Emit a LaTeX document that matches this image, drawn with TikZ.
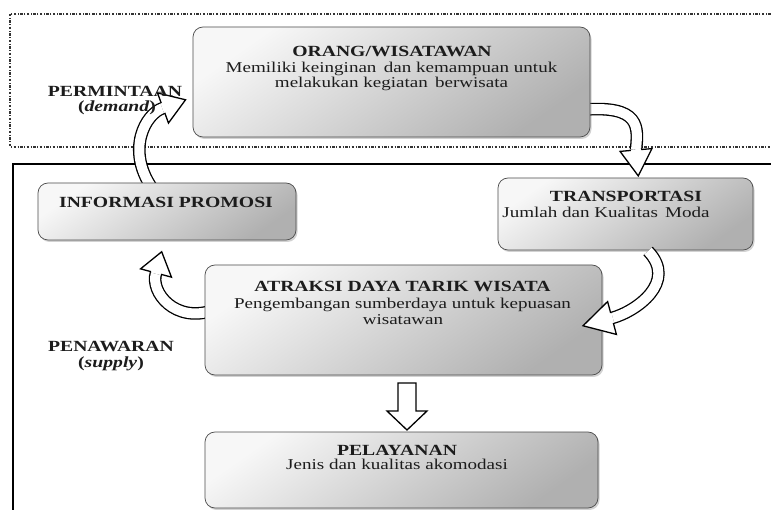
\documentclass[tikz,border=0pt]{standalone}
\usepackage{fontspec}
\setmainfont{Liberation Serif}[FakeStretch=1.27]
\usetikzlibrary{calc,shadows}
\definecolor{ink}{HTML}{1C1C1C}
\tikzset{
  box/.style={draw=gray!60!black, line width=0.7pt, rounded corners=10pt,
    top color=gray!6, bottom color=gray!62, shading angle=35,
    drop shadow={shadow xshift=1.5pt, shadow yshift=-2pt, opacity=0.35}},
  ttl/.style={font=\fontsize{15.5}{15.5}\selectfont\bfseries, text=ink, inner sep=0pt, anchor=base},
  bdy/.style={font=\fontsize{15}{15}\selectfont, text=ink, inner sep=0pt, anchor=base},
  band/.style={draw=black, line width=1.3pt, double=white, double distance=10pt, line cap=butt},
  ahead/.style={draw=black, line width=1.3pt, fill=white, line join=miter},
  dotframe/.style={draw=black!80, line width=1.3pt, dash pattern=on 2.5pt off 1.5pt on 1pt off 1.5pt},
}
% #1 start, #2 c1, #3 c2, #4 head base, #5 direction, #6 head half width, #7 head length
\newcommand\curvarrow[7]{%
  \draw[band] (#1) .. controls #2 and #3 .. (#4);
  \draw[ahead] ($(#4)+(#5+90:#6)$) -- ($(#4)+(#5:#7)$) -- ($(#4)+(#5-90:#6)$) -- cycle;
  \draw[white, line width=10pt] ($(#4)+(#5+180:0.8)$) -- ($(#4)+(#5:2)$);
}
\begin{document}
\begin{tikzpicture}[x=1pt,y=1pt]
\useasboundingbox (0,0) rectangle (771,-510);
\clip (0,0) rectangle (771,-510);
\fill[white] (0,0) rectangle (771,-510);

% frames
\draw[dotframe] (790,-14) -- (10,-14) -- (10,-147) -- (790,-147);
\draw[line width=2.2pt] (790,-164) -- (13,-164) -- (13,-530);

% named arrow end points
\coordinate (a1s) at (152,-188);
\coordinate (a1e) at (163,-108);
\coordinate (a2s) at (580,-110);
\coordinate (a2e) at (636,-150);
\coordinate (a3s) at (648,-251);
\coordinate (a3e) at (612,-318);
\coordinate (a4s) at (214,-310);
\coordinate (a4e) at (156,-273);

% arrows behind boxes
\curvarrow{a1s}{(126,-150)}{(145,-114)}{a1e}{20}{16}{24}
\curvarrow{a2s}{(642,-104)}{(638,-128)}{a2e}{-85}{16}{26}
\curvarrow{a4s}{(175,-324)}{(150,-292)}{a4e}{75}{16}{22}

% boxes
\node[box, minimum width=397pt, minimum height=110pt] (orang) at (391.5,-82) {};
\node[box, minimum width=255pt, minimum height=72pt] (transp) at (625.5,-214) {};
\node[box, minimum width=258pt, minimum height=57pt] (info) at (167,-211.5) {};
\node[box, minimum width=397pt, minimum height=110pt] (atraksi) at (403.5,-320) {};
\node[box, minimum width=393pt, minimum height=76pt] (pelay) at (401.5,-470) {};

% arrow on top of boxes
\curvarrow{a3s}{(678,-282)}{(636,-311.5)}{a3e}{195}{17}{30}

% down block arrow
\coordinate (darr) at (407,-383);
\draw[ahead] ($(darr)+(-9,0)$) -- ($(darr)+(9,0)$) -- ($(darr)+(9,-28)$) -- ($(darr)+(20,-28)$)
  -- ($(darr)+(0,-47)$) -- ($(darr)+(-20,-28)$) -- ($(darr)+(-9,-28)$) -- cycle;

% texts
\node[ttl] (orangT) at (392,-57) {ORANG/WISATAWAN};
\node[bdy] (orangB1) at (391.5,-72.5) {Memiliki keinginan\, dan kemampuan untuk};
\node[bdy] (orangB2) at (391.5,-88) {melakukan kegiatan\, berwisata};

\node[ttl] (transpT) at (626,-202) {TRANSPORTASI};
\node[bdy] (transpB) at (606,-217.5) {Jumlah dan Kualitas\, Moda};

\node[ttl] (infoT) at (166,-208) {INFORMASI PROMOSI};

\node[ttl] (atrT) at (402.5,-292) {ATRAKSI DAYA TARIK WISATA};
\node[bdy] (atrB1) at (402.5,-309) {Pengembangan sumberdaya untuk kepuasan};
\node[bdy] (atrB2) at (403,-325) {wisatawan};

\node[ttl] (pelT) at (397,-455) {PELAYANAN};
\node[bdy] (pelB) at (397,-469) {Jenis dan kualitas akomodasi};

\node[ttl] (permT) at (115,-97) {PERMINTAAN};
\node[ttl] (permS) at (117,-112) {(\textit{demand})};
\node[ttl] (penT) at (111,-352) {PENAWARAN};
\node[ttl] (penS) at (111,-368) {(\textit{supply})};
\end{tikzpicture}
\end{document}
